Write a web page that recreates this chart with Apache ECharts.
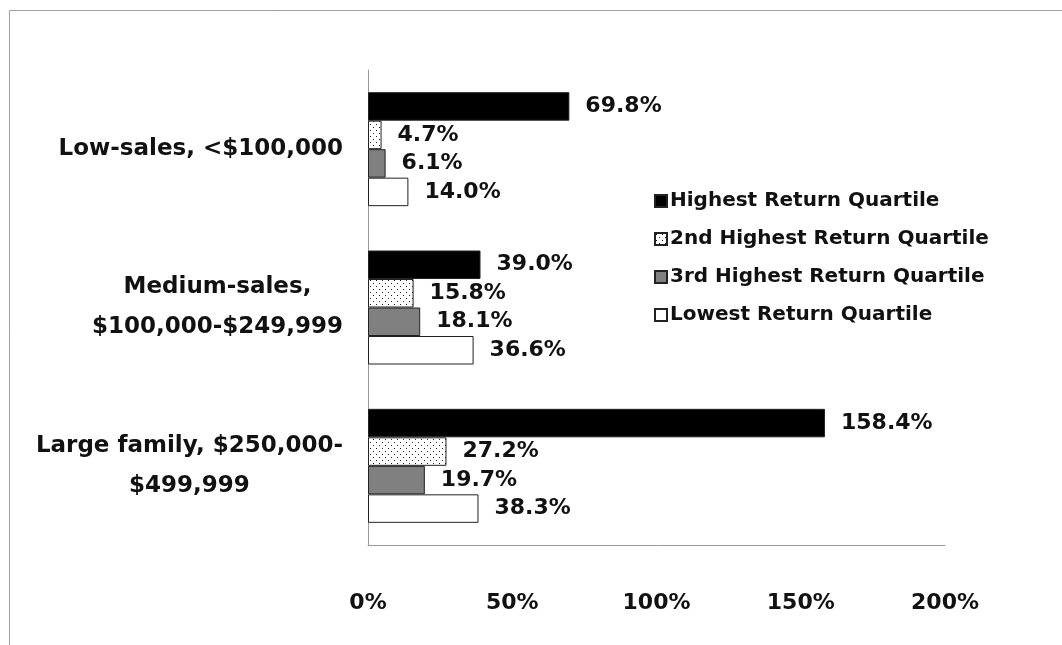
<!DOCTYPE html>
<html>
<head>
<meta charset="utf-8">
<script src="https://cdn.jsdelivr.net/npm/echarts@6/dist/echarts.min.js"></script>
<style>
  html, body { margin: 0; padding: 0; background: #fff; }
  #chart { width: 1062px; height: 645px; }
</style>
</head>
<body>
<div id="chart"></div>
<script>
// data
var categories = ['Low-sales, <$100,000', 'Medium-sales,\n$100,000-$249,999', 'Large family, $250,000-\n$499,999'];
var seriesNames = ['Highest Return Quartile', '2nd Highest Return Quartile', '3rd Highest Return Quartile', 'Lowest Return Quartile'];
var highest = [69.8, 39.0, 158.4];
var second = [4.7, 15.8, 27.2];
var third = [6.1, 18.1, 19.7];
var lowest = [14.0, 36.6, 38.3];
var xTicks = [0, 50, 100, 150, 200];

// dotted fill for the 2nd quartile
function dotPattern() {
    var c = document.createElement('canvas');
    c.width = 6; c.height = 6;
    var ctx = c.getContext('2d');
    ctx.fillStyle = '#fff';
    ctx.fillRect(0, 0, 6, 6);
    ctx.fillStyle = '#222';
    ctx.fillRect(1, 1, 1, 1);
    ctx.fillRect(4, 4, 1, 1);
    return c;
}

var fills = ['#000000', { image: dotPattern(), repeat: 'repeat' }, '#808080', '#ffffff'];
var values = [highest, second, third, lowest];

var chartDom = document.getElementById('chart');
var myChart = echarts.init(chartDom);

var font = '"DejaVu Sans", sans-serif';

var series = [];
for (var i = 0; i < 4; i++) {
    series.push({
        name: seriesNames[i],
        type: 'bar',
        data: values[i],
        barGap: '0%',
        barCategoryGap: '28%',
        itemStyle: {
            color: fills[i],
            borderColor: '#222',
            borderWidth: 1
        },
        label: {
            show: true,
            position: 'right',
            distance: 16,
            color: '#111',
            fontFamily: font,
            fontWeight: 'bold',
            fontSize: 22,
            formatter: function (p) { return p.value.toFixed(1) + '%'; }
        }
    });
}

var option = {
    animation: false,
    backgroundColor: '#fff',
    graphic: [{
        type: 'rect',
        shape: { x: 9.5, y: 10.5, width: 1100, height: 700 },
        style: { fill: 'none', stroke: '#a0a0a0', lineWidth: 1 },
        silent: true
    }],
    grid: { left: 368, right: 117, top: 70, bottom: 100 },
    legend: {
        orient: 'vertical',
        left: 649,
        top: 186,
        icon: 'rect',
        itemWidth: 12,
        itemHeight: 12,
        itemGap: 18,
        textStyle: { fontFamily: font, fontWeight: 'bold', fontSize: 20, color: '#111', padding: [0, 0, 0, -2] },
        data: seriesNames
    },
    xAxis: {
        type: 'value',
        min: 0,
        max: 200,
        interval: 50,
        splitLine: { show: false },
        axisTick: { show: false },
        axisLine: { show: true, lineStyle: { color: '#999' } },
        axisLabel: {
            margin: 47,
            fontFamily: font,
            fontWeight: 'bold',
            fontSize: 22,
            color: '#111',
            formatter: function (v) { return xTicks.indexOf(v) >= 0 ? v + '%' : ''; }
        }
    },
    yAxis: {
        type: 'category',
        inverse: true,
        data: categories,
        axisTick: { show: false },
        axisLine: { show: true, lineStyle: { color: '#999' } },
        axisLabel: {
            margin: 25,
            align: 'right',
            // each line centred inside the right-aligned block
            formatter: function (v) {
                return v.split('\n').map(function (s) { return '{c|' + s + '}'; }).join('\n');
            },
            rich: {
                c: {
                    align: 'center',
                    lineHeight: 40,
                    fontFamily: font,
                    fontWeight: 'bold',
                    fontSize: 23,
                    color: '#111'
                }
            }
        }
    },
    series: series
};

option && myChart.setOption(option);
</script>
</body>
</html>
